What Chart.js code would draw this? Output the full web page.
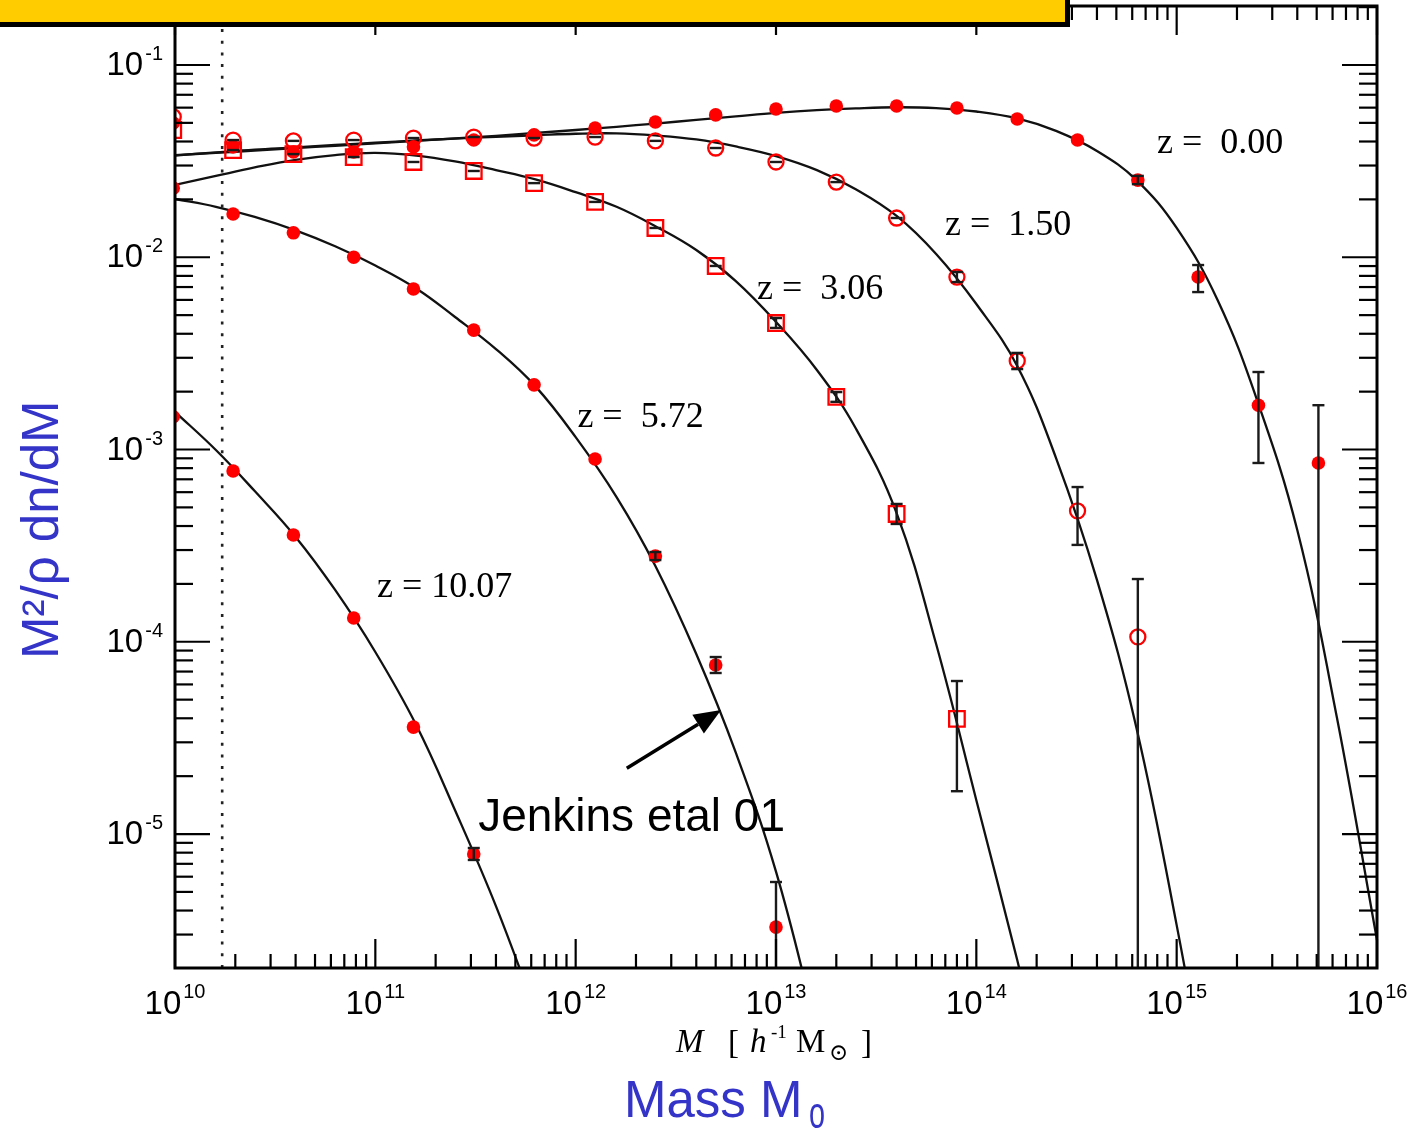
<!DOCTYPE html>
<html>
<head>
<meta charset="utf-8">
<title>Mass function</title>
<script src="https://cdn.jsdelivr.net/npm/chart.js@4.4.0/dist/chart.umd.min.js"></script>
<style>
  html, body { margin: 0; padding: 0; background: #fff; }
  canvas { display: block; }
</style>
</head>
<body>
<canvas id="massChart" width="1427" height="1129"></canvas>
<script>
// mass bins of the simulation points (first one sits just left of the frame)
const massBins = [9.8e9, 1.95e10, 3.9e10, 7.8e10, 1.55e11, 3.1e11, 6.2e11, 1.25e12, 2.5e12, 5e12,
                  1e13, 2e13, 4e13, 8e13, 1.6e14, 3.2e14, 6.4e14, 1.28e15, 2.56e15, 5.1e15];

// measured M^2/rho dn/dM per redshift
const z000 = [0.0499, 0.0375, 0.0353, 0.0353, 0.0375, 0.0407, 0.0433, 0.0470, 0.0505, 0.0550,
              0.0590, 0.0612, 0.0612, 0.0597, 0.0524, 0.0407, 0.0252, 0.00789, 0.00170, 0.000851];
const z150 = [0.0537, 0.0407, 0.0403, 0.0407, 0.0417, 0.0422, 0.0417, 0.0422, 0.0403, 0.0370,
              0.0313, 0.0246, 0.0160, 0.00789, 0.00289, 0.000479, 0.000106];
const z306 = [0.0459, 0.0361, 0.0344, 0.0332, 0.0313, 0.0281, 0.0243, 0.0194, 0.0142, 0.00901,
              0.00455, 0.00188, 0.000462, 0.0000397];
const z572 = [0.0229, 0.0168, 0.0134, 0.0100, 0.00684, 0.00418, 0.00217, 0.000893, 0.000279,
              0.0000757, 0.00000328];
const z1007 = [0.00148, 0.000773, 0.000359, 0.000133, 0.0000360, 0.00000787];

// error bars: [bin index, low, high]
const z000Err = [[16, 0.0240, 0.0265], [17, 0.00659, 0.00911], [18, 0.000851, 0.00253], [19, 1e-8, 0.00170]];
const z150Err = [[13, 0.00743, 0.00838], [14, 0.00262, 0.00318], [15, 0.000319, 0.000638], [16, 1e-8, 0.000212]];
const z306Err = [[10, 0.00429, 0.00483], [11, 0.00177, 0.00199], [12, 0.000410, 0.000521], [13, 0.0000167, 0.0000625]];
const z572Err = [[8, 0.000266, 0.000293], [9, 0.0000688, 0.0000833], [10, 1e-8, 0.00000563]];
const z1007Err = [[5, 0.00000733, 0.00000846]];

// Jenkins et al 01 fit curves
const curveMass = [1e10, 1.6e10, 2.5e10, 4e10, 6.3e10, 1e11, 1.6e11, 2.5e11, 4e11, 6.3e11,
                   1e12, 1.6e12, 2.5e12, 4e12, 6.3e12, 1e13, 1.6e13, 2.5e13, 4e13, 6.3e13,
                   1e14, 1.6e14, 2.5e14, 4e14, 6.3e14, 1e15, 1.6e15, 2.5e15, 4e15, 6.3e15, 1e16];
const fitZ000 = [0.0340, 0.0349, 0.0359, 0.0370, 0.0380, 0.0391, 0.0403, 0.0415, 0.0428, 0.0443,
                 0.0459, 0.0477, 0.0496, 0.0518, 0.0540, 0.0563, 0.0582, 0.0595, 0.0603, 0.0597,
                 0.0573, 0.0527, 0.0454, 0.0357, 0.0252, 0.0142, 0.00599, 0.00185, 0.000381, 0.0000406, 0.00000281];
const fitZ150 = [0.0338, 0.0351, 0.0363, 0.0373, 0.0384, 0.0394, 0.0405, 0.0414, 0.0423, 0.0431,
                 0.0439, 0.0441, 0.0430, 0.0410, 0.0377, 0.0336, 0.0284, 0.0226, 0.0164, 0.0104,
                 0.00571, 0.00272, 0.000903, 0.000210, 0.0000356, 0.00000336, 2.27e-7];
const fitZ306 = [0.0238, 0.0265, 0.0293, 0.0321, 0.0340, 0.0349, 0.0338, 0.0315, 0.0284, 0.0254,
                 0.0218, 0.0183, 0.0145, 0.0109, 0.00752, 0.00461, 0.00259, 0.00129, 0.000467, 0.0000973,
                 0.0000150, 0.00000221, 3.25e-7];
const fitZ572 = [0.0201, 0.0183, 0.0162, 0.0138, 0.0114, 0.00906, 0.00688, 0.00489, 0.00333, 0.00213,
                 0.00116, 0.000566, 0.000248, 0.0000864, 0.0000265, 0.00000637, 9.7e-7];
const fitZ1007 = [0.00157, 0.000994, 0.000608, 0.000351, 0.000186, 0.0000885, 0.0000369, 0.0000133,
                  0.00000422, 0.0000012];

// resolution limit (dotted line)
const resolutionMass = 1.72e10;

// axes
const xRange = [1e10, 1e16];
const yRange = [2.01e-6, 0.2027];
const xTickExp = [10, 11, 12, 13, 14, 15, 16];
const yTickExp = [-1, -2, -3, -4, -5];

// annotations
const zLabelText = ['z =  0.00', 'z =  1.50', 'z =  3.06', 'z =  5.72', 'z = 10.07'];
const zLabelMass = [7.98e14, 6.98e13, 8.04e12, 1.02e12, 1.02e11];
const zLabelLevel = [0.0349, 0.01305, 0.00606, 0.00131, 0.000171];
const jenkinsText = 'Jenkins etal 01';
const jenkinsAt = [3.26e11, 1.036e-5];
const arrowFrom = [1.8e12, 2.2e-5];
const arrowTo = [5.32e12, 4.42e-5];

document.addEventListener('DOMContentLoaded', function() {

    const red = '#ff0000';
    const blue = '#3434c8';

    const markerSets = [
        { vals: z000, err: z000Err, style: 'circle', fill: true, dash: false },
        { vals: z150, err: z150Err, style: 'circle', fill: false, dash: true },
        { vals: z306, err: z306Err, style: 'rect', fill: false, dash: true },
        { vals: z572, err: z572Err, style: 'circle', fill: true, dash: false },
        { vals: z1007, err: z1007Err, style: 'circle', fill: true, dash: false }
    ];
    const fits = [fitZ000, fitZ150, fitZ306, fitZ572, fitZ1007];

    const datasets = [];
    markerSets.forEach(s => {
        datasets.push({
            data: s.vals.map((v, i) => ({ x: massBins[i], y: v })),
            showLine: false,
            pointStyle: s.style,
            pointRadius: s.style === 'rect' ? 11 : (s.fill ? 6.8 : 7.5),
            pointBackgroundColor: s.fill ? red : 'rgba(0,0,0,0)',
            pointBorderColor: red,
            pointBorderWidth: s.fill ? 0 : 2.3,
            clip: 0,
            order: 1
        });
    });
    fits.forEach(f => {
        datasets.push({
            data: f.map((v, i) => ({ x: curveMass[i], y: v })),
            showLine: true,
            borderColor: '#111',
            borderWidth: 2.3,
            pointRadius: 0,
            tension: 0.4,
            clip: 0,
            order: 2
        });
    });
    datasets.push({
        data: [{ x: resolutionMass, y: yRange[0] }, { x: resolutionMass, y: yRange[1] }],
        showLine: true,
        borderColor: '#222',
        borderWidth: 2.6,
        borderDash: [3, 8.7],
        pointRadius: 0,
        tension: 0,
        clip: 0,
        order: 3
    });

    function seg(ctx, x1, y1, x2, y2) {
        ctx.beginPath();
        ctx.moveTo(x1, y1);
        ctx.lineTo(x2, y2);
        ctx.stroke();
    }

    // error bars on top of the markers
    const errorBars = {
        id: 'errorBars',
        afterDatasetsDraw(chart) {
            const { ctx, chartArea: a, scales: { x, y } } = chart;
            ctx.save();
            ctx.beginPath();
            ctx.rect(a.left, a.top, a.right - a.left, a.bottom - a.top);
            ctx.clip();
            ctx.strokeStyle = '#1a1a1a';
            ctx.lineWidth = 2.4;
            markerSets.forEach(s => {
                const withErr = s.err.map(e => e[0]);
                s.err.forEach(([i, lo, hi]) => {
                    const px = x.getPixelForValue(massBins[i]);
                    const top = y.getPixelForValue(hi);
                    const bot = y.getPixelForValue(lo);
                    seg(ctx, px, top, px, bot);
                    seg(ctx, px - 6, top, px + 6, top);
                    seg(ctx, px - 6, bot, px + 6, bot);
                });
                if (s.dash) {
                    s.vals.forEach((v, i) => {
                        if (i === 0 || withErr.includes(i)) return;
                        const px = x.getPixelForValue(massBins[i]);
                        const py = y.getPixelForValue(v);
                        seg(ctx, px - 6, py, px + 6, py);
                    });
                }
            });
            ctx.restore();
        }
    };

    // frame, inward ticks, labels, titles, notes
    const decorations = {
        id: 'decorations',
        afterDraw(chart) {
            const { ctx, chartArea: a, scales: { x, y } } = chart;
            ctx.save();
            ctx.strokeStyle = '#000';
            ctx.fillStyle = '#000';

            // ticks
            ctx.lineWidth = 2.2;
            for (let e = xTickExp[0]; e <= xTickExp[xTickExp.length - 1]; e++) {
                for (let m = 1; m <= 9; m++) {
                    const v = m * Math.pow(10, e);
                    if (v > x.max * 1.0001) break;
                    const px = x.getPixelForValue(v);
                    const len = m === 1 ? 29 : 14;
                    seg(ctx, px, a.bottom, px, a.bottom - len);
                    seg(ctx, px, a.top, px, a.top + len);
                }
            }
            for (let e = -6; e <= 0; e++) {
                for (let m = 1; m <= 9; m++) {
                    const v = m * Math.pow(10, e);
                    if (v < y.min || v > y.max) continue;
                    const py = y.getPixelForValue(v);
                    const len = m === 1 ? 35 : 18;
                    seg(ctx, a.left, py, a.left + len, py);
                    seg(ctx, a.right, py, a.right - len, py);
                }
            }

            // frame
            ctx.lineWidth = 3;
            ctx.strokeRect(a.left, a.top, a.right - a.left, a.bottom - a.top);

            // tick labels
            const mainFont = '33px "Liberation Sans", Arial, sans-serif';
            const supFont = '20px "Liberation Sans", Arial, sans-serif';
            ctx.textBaseline = 'alphabetic';
            yTickExp.forEach(e => {
                const py = y.getPixelForValue(Math.pow(10, e));
                const sup = String(e);
                ctx.font = supFont;
                const ws = ctx.measureText(sup).width;
                const right = a.left - 12;
                ctx.textAlign = 'left';
                ctx.fillText(sup, right - ws, py - 5);
                ctx.font = mainFont;
                ctx.textAlign = 'right';
                ctx.fillText('10', right - ws - 2, py + 10);
            });
            xTickExp.forEach(e => {
                const px = x.getPixelForValue(Math.pow(10, e));
                const sup = String(e);
                ctx.font = mainFont;
                const wm = ctx.measureText('10').width;
                ctx.font = supFont;
                const ws = ctx.measureText(sup).width;
                const start = px - (wm + 2 + ws) / 2;
                ctx.textAlign = 'left';
                ctx.font = mainFont;
                ctx.fillText('10', start, a.bottom + 46);
                ctx.font = supFont;
                ctx.fillText(sup, start + wm + 2, a.bottom + 30);
            });

            // x axis title  M [ h^-1 M_sun ]
            const serif = '"Liberation Serif", "Times New Roman", serif';
            ctx.textAlign = 'left';
            ctx.font = 'italic 33px ' + serif;
            ctx.fillText('M', 676, 1052);
            ctx.font = '33px ' + serif;
            ctx.fillText('[', 728, 1053);
            ctx.font = 'italic 33px ' + serif;
            ctx.fillText('h', 750, 1052);
            ctx.font = '19px ' + serif;
            ctx.fillText('-1', 771, 1038);
            ctx.font = '33px ' + serif;
            ctx.fillText('M', 796, 1052);
            ctx.font = '23px "DejaVu Serif", serif';
            ctx.fillText('\u2299', 829, 1060);
            ctx.font = '33px ' + serif;
            ctx.fillText(']', 861, 1053);

            // blue titles
            ctx.fillStyle = blue;
            ctx.font = '51px "Liberation Sans", Arial, sans-serif';
            ctx.fillText('Mass M', 624, 1117);
            ctx.save();
            ctx.translate(809, 1128);
            ctx.scale(0.72, 1.1);
            ctx.font = '40px "Liberation Sans", Arial, sans-serif';
            ctx.fillText('o', 0, 0);
            ctx.restore();
            ctx.save();
            ctx.translate(58, 659);
            ctx.rotate(-Math.PI / 2);
            ctx.font = '51px "Liberation Sans", Arial, sans-serif';
            ctx.fillText('M\u00b2/\u03c1 dn/dM', 0, 0);
            ctx.restore();

            // redshift labels
            ctx.fillStyle = '#000';
            ctx.font = '36px ' + serif;
            zLabelText.forEach((t, i) => {
                ctx.fillText(t, x.getPixelForValue(zLabelMass[i]), y.getPixelForValue(zLabelLevel[i]));
            });

            // Jenkins note with arrow
            ctx.font = '46px "Liberation Sans", Arial, sans-serif';
            ctx.fillText(jenkinsText, x.getPixelForValue(jenkinsAt[0]), y.getPixelForValue(jenkinsAt[1]));
            const x1 = x.getPixelForValue(arrowFrom[0]), y1 = y.getPixelForValue(arrowFrom[1]);
            const x2 = x.getPixelForValue(arrowTo[0]), y2 = y.getPixelForValue(arrowTo[1]);
            const ang = Math.atan2(y2 - y1, x2 - x1);
            const head = 27, half = 11;
            const bx = x2 - head * Math.cos(ang), by = y2 - head * Math.sin(ang);
            ctx.lineWidth = 3.5;
            seg(ctx, x1, y1, bx, by);
            ctx.beginPath();
            ctx.moveTo(x2, y2);
            ctx.lineTo(bx + half * Math.sin(ang), by - half * Math.cos(ang));
            ctx.lineTo(bx - half * Math.sin(ang), by + half * Math.cos(ang));
            ctx.closePath();
            ctx.fill();

            // yellow title box, cut off at the top of the picture
            ctx.fillStyle = '#ffcc00';
            ctx.fillRect(0, 0, 1066, 22);
            ctx.fillStyle = '#000';
            ctx.fillRect(0, 22, 1070, 5);
            ctx.fillRect(1065, 0, 5, 27);

            ctx.restore();
        }
    };

    const whiteBg = {
        id: 'whiteBg',
        beforeDraw(chart) {
            const c = chart.ctx;
            c.save();
            c.fillStyle = '#fff';
            c.fillRect(0, 0, chart.width, chart.height);
            c.restore();
        }
    };

    new Chart(document.getElementById('massChart'), {
        type: 'scatter',
        data: { datasets: datasets },
        options: {
            responsive: false,
            animation: false,
            devicePixelRatio: 1,
            layout: { autoPadding: false, padding: { left: 175, right: 50, top: 6, bottom: 161 } },
            plugins: { legend: { display: false }, tooltip: { enabled: false } },
            scales: {
                x: { type: 'logarithmic', min: xRange[0], max: xRange[1], display: false },
                y: { type: 'logarithmic', min: yRange[0], max: yRange[1], display: false }
            }
        },
        plugins: [whiteBg, errorBars, decorations]
    });
});
</script>
</body>
</html>
